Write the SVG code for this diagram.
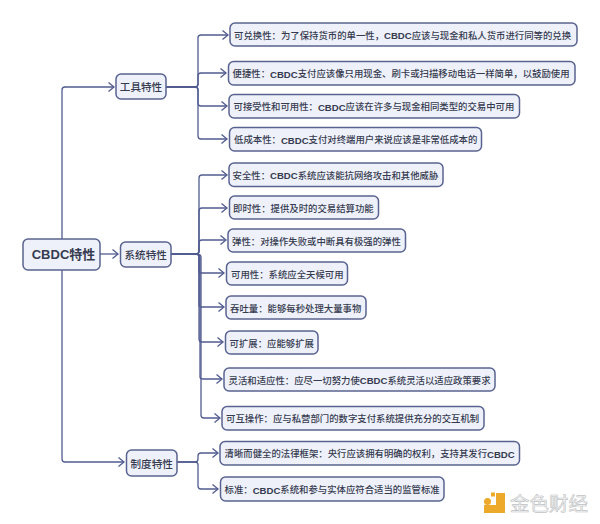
<svg xmlns="http://www.w3.org/2000/svg" width="600" height="524" viewBox="0 0 600 524">
<style>
text{font-family:"Liberation Sans","Noto Sans CJK SC",sans-serif;fill:#363b50;dominant-baseline:central}
.leaf rect,.mid rect,.root rect{fill:#eef1fa;stroke:#596390;stroke-width:1.5}
.leaf text{font-size:9.4px;font-weight:500}
.leaf tspan{font-weight:700;font-size:9.6px}
.mid text{font-size:10.6px;font-weight:500;text-anchor:middle;font-family:"Noto Sans CJK SC",sans-serif}
.root text{font-size:13px;font-weight:700;text-anchor:middle}
#connectors path{fill:none;stroke:#515c90;stroke-width:1.3;marker-end:url(#a)}
</style>
<defs><marker id="a" markerUnits="userSpaceOnUse" markerWidth="10" markerHeight="12" refX="7" refY="6" orient="auto"><path d="M1.500 1.500L7 6L1.500 10.500" fill="none" stroke="#515c90" stroke-width="1.300"/></marker></defs>
<rect width="600" height="524" fill="#fff"/>
<g id="connectors">
<path d="M62 239V90Q62 87 65 87H114"/>
<path d="M100 254H118"/>
<path d="M62 270V459Q62 462 65 462H124"/>
<path d="M166 87H195Q198 87 198 84V38Q198 35 201 35H228"/>
<path d="M166 87H195Q198 87 198 84V76Q198 73 201 73H226"/>
<path d="M166 87H195Q198 87 198 90V103Q198 106 201 106H227"/>
<path d="M166 87H195Q198 87 198 90V136Q198 139 201 139H227"/>
<path d="M171 254H196Q199 254 199 251V178Q199 175 202 175H227"/>
<path d="M171 254H196Q199 254 199 251V211Q199 208 202 208H227"/>
<path d="M171 254H196Q199 254 199 251V243Q199 240 202 240H226"/>
<path d="M171 254H196Q199 254 199 257V271Q199 273 202 273H224"/>
<path d="M171 254H196Q199 254 199 257V305Q199 307 202 307H224"/>
<path d="M171 254H196Q199 254 199 257V339Q199 342 202 342H223"/>
<path d="M171 254H196Q200 254 200 257V377Q200 379 203 379H222"/>
<path d="M171 254H196Q201 254 201 257V415Q201 418 204 418H220"/>
<path d="M177 462H195Q198 462 198 459V456Q198 453 201 453H218"/>
<path d="M177 462H195Q198 462 198 465V486Q198 489 201 489H218"/>
</g>
<g id="root" class="root"><rect x="23" y="239" width="77" height="31" rx="5"/><text x="63.500" y="254.500">CBDC特性</text></g>
<g id="tool" class="mid"><rect x="116" y="74" width="50" height="25" rx="5"/><text x="141" y="86.500">工具特性</text></g>
<g id="system" class="mid"><rect x="120.500" y="242" width="50.500" height="25" rx="5"/><text x="145.700" y="254.500">系统特性</text></g>
<g id="institution" class="mid"><rect x="126.500" y="450" width="50.500" height="26" rx="5"/><text x="151.700" y="463">制度特性</text></g>
<g id="n1" class="leaf"><rect x="230" y="23" width="347" height="23" rx="5"/><text x="234" y="35">可兑换性：为了保持货币的单一性，<tspan>CBDC</tspan>应该与现金和私人货币进行同等的兑换</text></g>
<g id="n2" class="leaf"><rect x="228.500" y="61.500" width="346.500" height="23.500" rx="5"/><text x="232.500" y="73.500">便捷性：<tspan>CBDC</tspan>支付应该像只用现金、刷卡或扫描移动电话一样简单，以鼓励使用</text></g>
<g id="n3" class="leaf"><rect x="229" y="94.500" width="290.500" height="23.500" rx="5"/><text x="233.500" y="106.500">可接受性和可用性：<tspan>CBDC</tspan>应该在许多与现金相同类型的交易中可用</text></g>
<g id="n4" class="leaf"><rect x="229.500" y="127.500" width="252" height="23.500" rx="5"/><text x="234" y="139.500">低成本性：<tspan>CBDC</tspan>支付对终端用户来说应该是非常低成本的</text></g>
<g id="n5" class="leaf"><rect x="229" y="163" width="214" height="23.500" rx="5"/><text x="232.500" y="175">安全性：<tspan>CBDC</tspan>系统应该能抗网络攻击和其他威胁</text></g>
<g id="n6" class="leaf"><rect x="229.500" y="196" width="149" height="23" rx="5"/><text x="233" y="208">即时性：提供及时的交易结算功能</text></g>
<g id="n7" class="leaf"><rect x="228" y="229" width="177.500" height="23" rx="5"/><text x="232" y="241">弹性：对操作失败或中断具有极强的弹性</text></g>
<g id="n8" class="leaf"><rect x="226.500" y="262" width="121" height="23" rx="5"/><text x="231" y="274">可用性：系统应全天候可用</text></g>
<g id="n9" class="leaf"><rect x="226" y="296" width="140" height="23" rx="5"/><text x="230" y="308">吞吐量：能够每秒处理大量事物</text></g>
<g id="n10" class="leaf"><rect x="225.500" y="331" width="92.500" height="23" rx="5"/><text x="229.500" y="343">可扩展：应能够扩展</text></g>
<g id="n11" class="leaf"><rect x="224" y="368" width="271" height="23" rx="5"/><text x="228.500" y="380">灵活和适应性：应尽一切努力使<tspan>CBDC</tspan>系统灵活以适应政策要求</text></g>
<g id="n12" class="leaf"><rect x="222" y="406.500" width="262" height="23.500" rx="5"/><text x="226" y="418.500">可互操作：应与私营部门的数字支付系统提供充分的交互机制</text></g>
<g id="n13" class="leaf"><rect x="220" y="441.500" width="299.500" height="23.500" rx="5"/><text x="224.500" y="453.500">清晰而健全的法律框架：央行应该拥有明确的权利，支持其发行<tspan>CBDC</tspan></text></g>
<g id="n14" class="leaf"><rect x="220.500" y="477" width="223.500" height="24" rx="5"/><text x="224.500" y="489.500">标准：<tspan>CBDC</tspan>系统和参与实体应符合适当的监管标准</text></g>
<g id="watermark">
<path d="M496 493H505V513H484V505H496Z" fill="#eda92a"/>
<rect x="491" y="492.500" width="4" height="4" fill="#eda92a"/>
<circle cx="487.500" cy="501.500" r="3.500" fill="#eda92a"/>
<text x="510" y="503.500" font-size="19.500" style="fill:#f4f5f5;stroke:#bfc2c4;stroke-width:.6">金色财经</text>
</g>
</svg>
